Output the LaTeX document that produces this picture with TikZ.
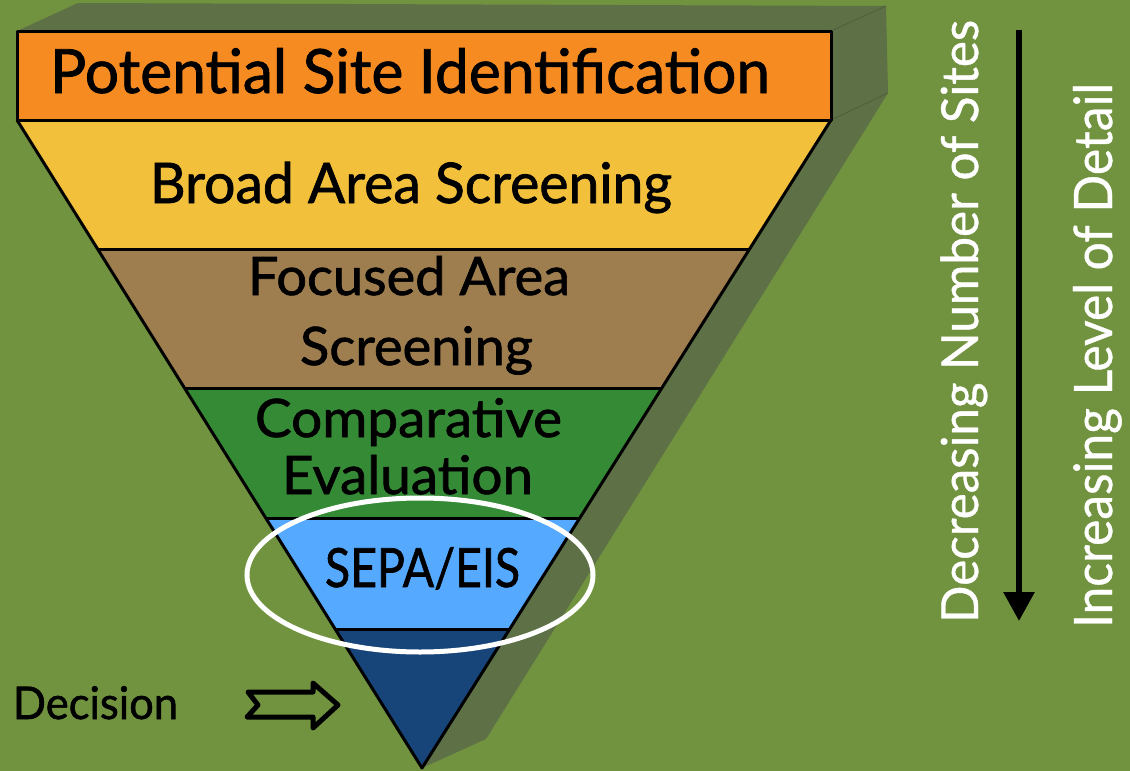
\documentclass[tikz,border=0pt]{standalone}
\usepackage{graphicx}
\usepackage{fontspec}
\setmainfont{Lato}
\newfontfamily\medfont{Lato}[FakeBold=1.3]
\newfontfamily\wfont{Lato}[FakeBold=0.8]
\usetikzlibrary{arrows.meta,calc}
\definecolor{bg}{HTML}{71933F}
\definecolor{shad}{HTML}{5E7046}
\definecolor{orng}{HTML}{F68B21}
\definecolor{yel}{HTML}{F2C03B}
\definecolor{brn}{HTML}{9E7D4F}
\definecolor{grn}{HTML}{358A36}
\definecolor{lblue}{HTML}{55A9FE}
\definecolor{dblue}{HTML}{17457A}
\newsavebox\fitbx
\newlength\fitw
\newcommand\fitt[3]{\sbox\fitbx{\fontsize{#2}{#2}\selectfont #3}\setlength\fitw{\wd\fitbx}\pgfmathsetmacro\fx{#1/\fitw}\scalebox{\fx}[1]{\usebox\fitbx}}
\tikzset{
  lbl/.style={inner sep=0pt, outer sep=0pt, anchor=base west, text=black, font=\medfont},
  wlbl/.style={inner sep=0pt, outer sep=0pt, anchor=base west, text=white, rotate=90, font=\wfont},
  layer/.style={line width=3pt, draw=black, line join=round},
}
\begin{document}
\begin{tikzpicture}[x=1pt,y=-1pt]
\useasboundingbox (0,0) rectangle (1130,771);
\fill[bg] (0,0) rectangle (1130,771);
% shadow / extrusion
\fill[shad] (17,31) -- (78,3) -- (886,6) -- (888,93) -- (486,739) -- (422,768) -- cycle;
\draw[shad!85!black, line width=0.8pt] (831,31) -- (886,6);
\draw[shad!85!black, line width=0.8pt] (831,120) -- (888,93);
% funnel coordinates
\coordinate (L) at (17,120);
\coordinate (R) at (831,120);
\coordinate (A) at (422,768);
\coordinate (L1) at ($(L)!0.2006!(A)$); \coordinate (R1) at ($(R)!0.2006!(A)$);
\coordinate (L2) at ($(L)!0.4136!(A)$); \coordinate (R2) at ($(R)!0.4136!(A)$);
\coordinate (L3) at ($(L)!0.6157!(A)$); \coordinate (R3) at ($(R)!0.6157!(A)$);
\coordinate (L4) at ($(L)!0.7870!(A)$); \coordinate (R4) at ($(R)!0.7870!(A)$);
% layers
\fill[yel] (L) -- (R) -- (R1) -- (L1) -- cycle;
\fill[brn] (L1) -- (R1) -- (R2) -- (L2) -- cycle;
\fill[grn] (L2) -- (R2) -- (R3) -- (L3) -- cycle;
\fill[lblue] (L3) -- (R3) -- (R4) -- (L4) -- cycle;
\fill[dblue] (L4) -- (R4) -- (A) -- cycle;
\draw[layer] (L) -- (A) -- (R);
\draw[layer] (L1) -- (R1);
\draw[layer] (L2) -- (R2);
\draw[layer] (L3) -- (R3);
\draw[layer] (L4) -- (R4);
% top rectangle
\filldraw[fill=orng, layer] (17,31) rectangle (831,120);
% labels
\node[lbl] (t1) at (50,93) {\fitt{720}{61}{Potential Site Identification}};
\node[lbl] (t2) at (150,203) {\fitt{522}{56}{Broad Area Screening}};
\node[lbl] (t3a) at (248,295) {\fitt{322}{53}{Focused Area}};
\node[lbl] (t3b) at (300,365) {\fitt{233}{53}{Screening}};
\node[lbl] (t4a) at (255,437) {\fitt{307}{53}{Comparative}};
\node[lbl] (t4b) at (282,494) {\fitt{251}{53}{Evaluation}};
\node[lbl] (t5) at (325,587) {\fitt{195}{54}{SEPA/EIS}};
\node[lbl] (dec) at (13,719) {\fitt{165}{45}{Decision}};
\node[wlbl] (r1) at (978,623) {\fitt{603}{51}{Decreasing Number of Sites}};
\node[wlbl] (r2) at (1112,628) {\fitt{545}{53}{Increasing Level of Detail}};
% highlight ellipse
\draw[white, line width=5pt] (420,575) ellipse [x radius=173, y radius=77];
% decision arrow
\draw[black, line width=5pt, line join=round] (248,692) -- (313,692) -- (313,683) -- (338,705) -- (313,728) -- (313,717) -- (247,717) -- (258,705) -- cycle;
% direction arrow
\coordinate (atop) at (1019,30);
\coordinate (abot) at (1019,621);
\draw[line width=6pt, -{Triangle[width=30pt,length=29pt]}] (atop) -- (abot);
\end{tikzpicture}
\end{document}
